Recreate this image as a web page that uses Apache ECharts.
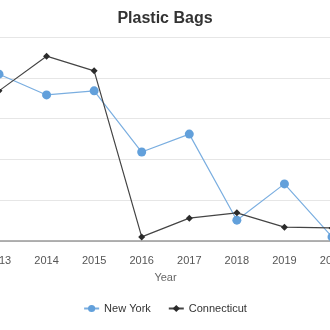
<!DOCTYPE html>
<html><head><meta charset="utf-8">
<script src="https://cdn.jsdelivr.net/npm/echarts@6/dist/echarts.min.js"></script>
<style>html,body{margin:0;padding:0;background:#fff}#c{width:330px;height:330px}</style>
</head><body><div id="c"></div>
<script>
const years = ['2013','2014','2015','2016','2017','2018','2019','2020'];
const newYork = [4.09, 3.58, 3.68, 2.18, 2.62, 0.51, 1.40, 0.10];
const connecticut = [3.68, 4.53, 4.17, 0.10, 0.56, 0.69, 0.34, 0.32];
const chart = echarts.init(document.getElementById('c'), null, {renderer:'canvas'});
chart.setOption({
  animation: false,
  title: {text: 'Plastic Bags', left: 'center', top: 6,
    textStyle: {fontFamily: 'Liberation Sans, Arial', fontSize: 16, fontWeight: 'bold', color: '#333'}},
  legend: {bottom: 11, left: 'center', itemGap: 17, itemWidth: 15, itemHeight: 9,
    textStyle: {fontFamily: 'Liberation Sans, Arial', fontSize: 11, color: '#333'},
    data: ['New York', 'Connecticut']},
  grid: {left: -1, right: -2, top: 37, bottom: 89, containLabel: false, outerBoundsMode: 'none'},
  xAxis: {type: 'category', data: years, boundaryGap: false,
    name: 'Year', nameLocation: 'middle', nameGap: 31,
    nameTextStyle: {fontFamily: 'Liberation Sans, Arial', fontSize: 11, color: '#666'},
    axisLine: {lineStyle: {color: '#999', width: 1.5}}, axisTick: {show: false},
    axisLabel: {fontFamily: 'Liberation Sans, Arial', fontSize: 11, color: '#555', margin: 14}},
  yAxis: {type: 'value', min: 0, max: 5, interval: 1,
    axisLabel: {show: false}, axisLine: {show: false}, axisTick: {show: false},
    splitLine: {lineStyle: {color: '#e6e6e6'}}},
  series: [
    {name: 'New York', type: 'line', data: newYork, symbol: 'circle', symbolSize: 9,
      lineStyle: {color: '#7aaee0', width: 1.2}, itemStyle: {color: '#62a0db'}},
    {name: 'Connecticut', type: 'line', data: connecticut, symbol: 'diamond', symbolSize: 7,
      lineStyle: {color: '#444', width: 1.2}, itemStyle: {color: '#2b2b2b'}}
  ]
});
</script></body></html>
